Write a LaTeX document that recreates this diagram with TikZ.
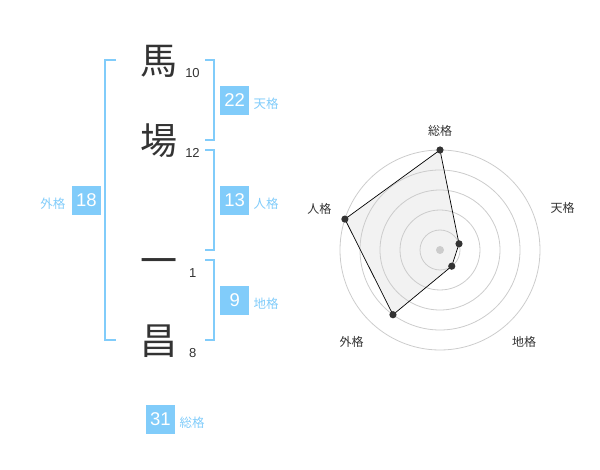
\documentclass[tikz,border=0pt]{standalone}
\usepackage{fontspec}
\setmainfont{Liberation Sans}
\newfontfamily\jpfont{Noto Sans CJK JP}
\usetikzlibrary{calc}
\definecolor{kakublue}{RGB}{129,204,250}
\definecolor{chargray}{RGB}{51,51,51}
\definecolor{ringgray}{RGB}{204,204,204}
\definecolor{areagray}{RGB}{242,242,242}
\tikzset{
  kanji/.style={font=\jpfont\fontsize{37}{37}\selectfont, text=chargray, inner sep=0pt, text height=32.6pt, text depth=4.4pt},
  strokes/.style={font=\fontsize{13}{13}\selectfont, text=chargray, inner sep=0pt},
  bracket/.style={draw=kakublue, line width=2pt},
  kakubox/.style={fill=kakublue, text=white, minimum size=29pt, inner sep=0pt, font=\fontsize{18.5}{18.5}\selectfont},
  kakulabel/.style={text=kakublue, inner sep=0pt, font=\jpfont\fontsize{12.5}{12.5}\selectfont},
  ring/.style={draw=ringgray, line width=0.8pt},
  axislabel/.style={text=chargray, inner sep=0pt, font=\jpfont\fontsize{12}{12}\selectfont},
  spot/.style={fill=chargray, draw=none}
}
\begin{document}
\begin{tikzpicture}[x=1pt, y=-1pt]
		%%%%% START %%%%%
		\useasboundingbox (0,0) rectangle (600,470);
		
		\node[kanji] (ba) at (159, 60) {馬};
		\node[kanji] (jo) at (159, 140) {場};
		\node[kanji] (ichi) at (159, 260) {一};
		\node[kanji] (sho) at (159, 340) {昌};
		
		\node[strokes] (ba-n) at (192.5, 72.7) {10};
		\node[strokes] (jo-n) at (192.5, 153.3) {12};
		\node[strokes] (ichi-n) at (192.7, 272.7) {1};
		\node[strokes] (sho-n) at (192.7, 352.7) {8};
		
		\draw[bracket] (116, 60) -- (105, 60) -- (105, 340) -- (116, 340);
		\draw[bracket] (205, 60) -- (214, 60) -- (214, 140) -- (205, 140);
		\draw[bracket] (205, 150) -- (214, 150) -- (214, 250) -- (205, 250);
		\draw[bracket] (205, 260) -- (214, 260) -- (214, 340) -- (205, 340);
		
		\node[kakubox] (tenkaku) at (234.7, 100.5) {22};
		\node[kakulabel] at (266, 104) {天格};
		\node[kakubox] (jinkaku) at (234.7, 200.5) {13};
		\node[kakulabel] at (266, 204) {人格};
		\node[kakubox] (chikaku) at (234.7, 300.5) {9};
		\node[kakulabel] at (266, 304) {地格};
		\node[kakubox] (gaikaku) at (86.4, 200.5) {18};
		\node[kakulabel] at (52.8, 204) {外格};
		\node[kakubox] (sokaku) at (160.5, 419.5) {31};
		\node[kakulabel] at (192, 422.7) {総格};
		
		% radar
		\begin{scope}[shift={(440, 250)}, yscale=-1]
			\coordinate (so) at (90:100);
			\coordinate (ten) at (18:20);
			\coordinate (chi) at (-54:20);
			\coordinate (gai) at (-126:80);
			\coordinate (jin) at (162:100);
			\fill[areagray] (so) -- (ten) -- (chi) -- (gai) -- (jin) -- cycle;
			\foreach \r in {20, 40, ..., 100}
				\draw[ring] (0, 0) circle (\r);
			\draw[black, line width=0.7pt] (so) -- (ten) -- (chi) -- (gai) -- (jin) -- cycle;
			\foreach \p in {so, ten, chi, gai, jin}
				\fill[spot] (\p) circle (3.6);
			\fill[ringgray] (0, 0) circle (4);
		\end{scope}
		
		\node[axislabel] at (440, 130.7) {総格};
		\node[axislabel] at (562.7, 208.3) {天格};
		\node[axislabel] at (524, 342.3) {地格};
		\node[axislabel] at (351.7, 342.3) {外格};
		\node[axislabel] at (319.3, 209) {人格};
		
		%%%%% END %%%%%
	\end{tikzpicture}
\end{document}
